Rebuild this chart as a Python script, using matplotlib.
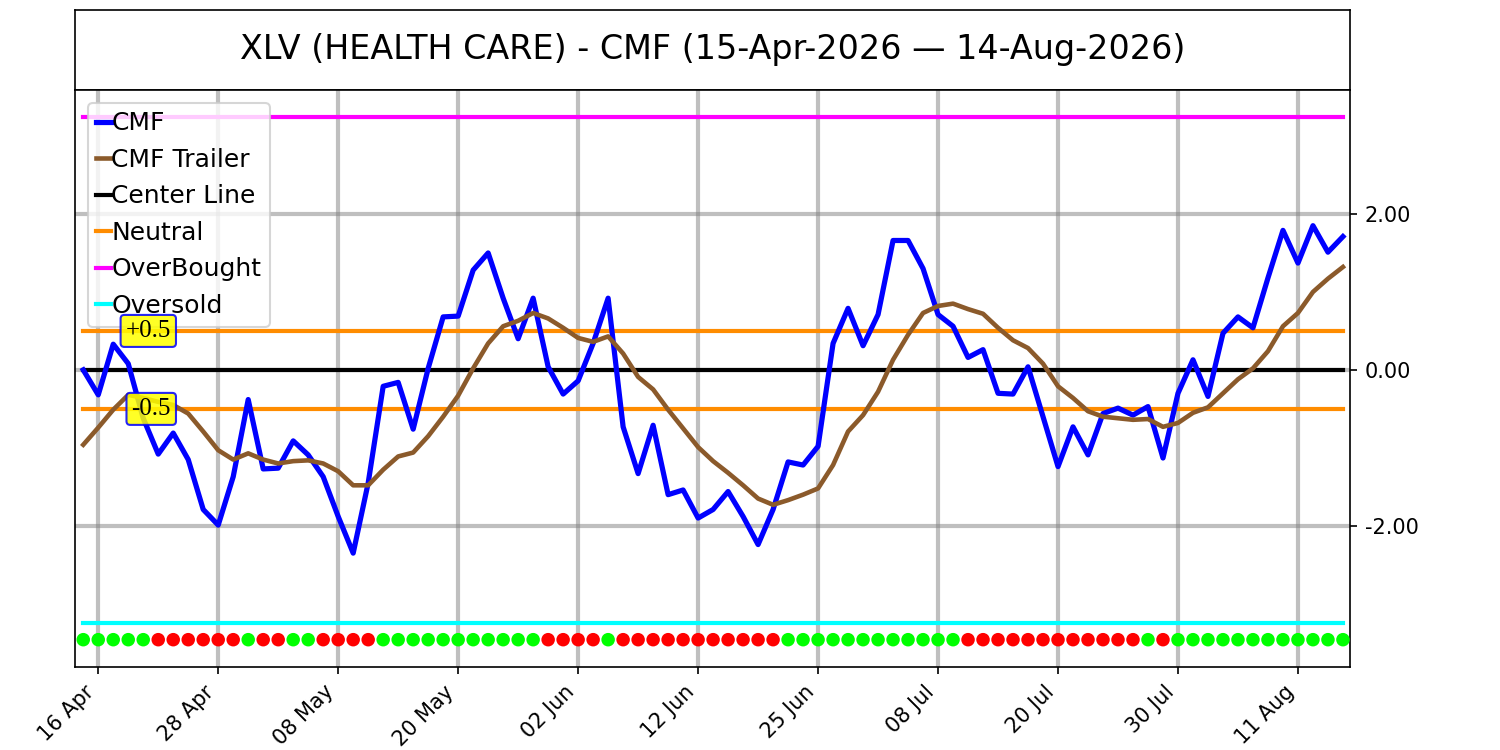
import numpy as np
import pandas as pd
import matplotlib
matplotlib.use('Agg')
import matplotlib.pyplot as plt

# Trading days shown on the chart (US market holidays removed)
holidays = ['2026-05-25', '2026-06-19', '2026-07-03']
days = pd.bdate_range('2026-04-15', '2026-08-14', freq='C', holidays=holidays)

# CMF values
cmf = [0.00, -0.32, 0.33, 0.08, -0.62, -1.08, -0.81, -1.15, -1.79, -1.99,
       -1.37, -0.38, -1.27, -1.26, -0.91, -1.09, -1.37, -1.88, -2.35, -1.45,
       -0.21, -0.16, -0.76, 0.02, 0.68, 0.69, 1.28, 1.50, 0.92, 0.40,
       0.92, 0.04, -0.31, -0.14, 0.34, 0.92, -0.73, -1.33, -0.71, -1.60,
       -1.54, -1.90, -1.79, -1.56, -1.88, -2.24, -1.79, -1.18, -1.22, -0.98,
       0.34, 0.79, 0.31, 0.71, 1.66, 1.66, 1.30, 0.71, 0.56, 0.16,
       0.26, -0.30, -0.31, 0.04, -0.60, -1.24, -0.73, -1.09, -0.56, -0.49,
       -0.58, -0.47, -1.13, -0.30, 0.13, -0.34, 0.47, 0.68, 0.54, 1.18,
       1.79, 1.37, 1.85, 1.51, 1.71]

# CMF trailer (smoothed) values
trailer = [-0.96, -0.74, -0.51, -0.32, -0.36, -0.41, -0.45, -0.56, -0.79, -1.03,
           -1.15, -1.07, -1.15, -1.20, -1.17, -1.16, -1.20, -1.30, -1.48, -1.48,
           -1.28, -1.11, -1.06, -0.85, -0.60, -0.33, 0.02, 0.34, 0.56, 0.63,
           0.73, 0.66, 0.54, 0.41, 0.36, 0.43, 0.21, -0.09, -0.25, -0.51,
           -0.75, -0.99, -1.17, -1.32, -1.48, -1.65, -1.73, -1.67, -1.60, -1.52,
           -1.22, -0.79, -0.58, -0.28, 0.13, 0.45, 0.73, 0.82, 0.85, 0.78,
           0.72, 0.54, 0.38, 0.28, 0.08, -0.21, -0.36, -0.53, -0.60, -0.62,
           -0.64, -0.63, -0.73, -0.68, -0.55, -0.48, -0.30, -0.12, 0.02, 0.24,
           0.56, 0.73, 1.00, 1.17, 1.32]

# signal dots along the bottom: g = green, r = red (10 per chunk)
signal = ('gggggrrrrr' 'rgrrggrrrr' 'gggggggggg' 'grrrrgrrrr' 'rrrrrrrggg'
          'gggggggggr' 'rrrrrrrrrr' 'rgrggggggg' 'ggggg')

center = 0.0
neutral = 0.5
overbought = 3.25
oversold = -3.25
dot_level = -3.46

title = 'XLV (HEALTH CARE) - CMF (15-Apr-2026 \u2014 14-Aug-2026)'

x = np.arange(len(cmf))
n = len(x)

fig = plt.figure(figsize=(10, 5), dpi=150)

# title box on top
tax = fig.add_axes([0.05, 0.88, 0.85, 0.1067])
tax.set_xticks([])
tax.set_yticks([])
tax.text(0.5, 0.5, title, ha='center', va='center', fontsize=16, transform=tax.transAxes)

ax = fig.add_axes([0.05, 0.1107, 0.85, 0.7693])

ax.plot(x, cmf, color='blue', lw=2.5, label='CMF', zorder=4)
ax.plot(x, trailer, color='#8B5A2B', lw=2.2, label='CMF Trailer', zorder=4)
ax.plot(x, [center] * n, color='black', lw=2, label='Center Line', zorder=3)
ax.plot(x, [neutral] * n, color='darkorange', lw=2, label='Neutral', zorder=3)
ax.plot(x, [-neutral] * n, color='darkorange', lw=2, zorder=3)
ax.plot(x, [overbought] * n, color='magenta', lw=2, label='OverBought', zorder=3)
ax.plot(x, [oversold] * n, color='cyan', lw=2, label='Oversold', zorder=3)

dot_colors = ['#00ff00' if s == 'g' else 'red' for s in signal]
ax.scatter(x, [dot_level] * n, c=dot_colors, s=30, zorder=5)

box = dict(boxstyle='round,pad=0.2,rounding_size=0.15', facecolor='yellow',
           edgecolor='blue', lw=1, alpha=0.85)
ax.text(5.85, neutral, '+0.5', ha='right', va='center', fontsize=12,
        family='Liberation Serif', bbox=box, zorder=6)
ax.text(5.85, -neutral, '-0.5', ha='right', va='center', fontsize=12,
        family='Liberation Serif', bbox=box, zorder=6)

ax.set_xlim(-0.55, n - 1 + 0.47)
ax.set_ylim(-3.81, 3.59)

ticks = x[1::8]
ax.set_xticks(ticks)
ax.set_xticklabels([days[i].strftime('%d %b') for i in ticks], rotation=45, ha='right')

ax.yaxis.tick_right()
ax.set_yticks([-2, 0, 2])
ax.set_yticklabels(['%.2f' % v for v in [-2, 0, 2]])

ax.grid(True, color='gray', lw=2, alpha=0.5)
ax.set_axisbelow(True)

ax.legend(loc='upper left', fontsize=12, handlelength=0.6, handletextpad=0.0,
          borderpad=0.35, labelspacing=0.5)

fig.savefig('out.png', dpi=150)
